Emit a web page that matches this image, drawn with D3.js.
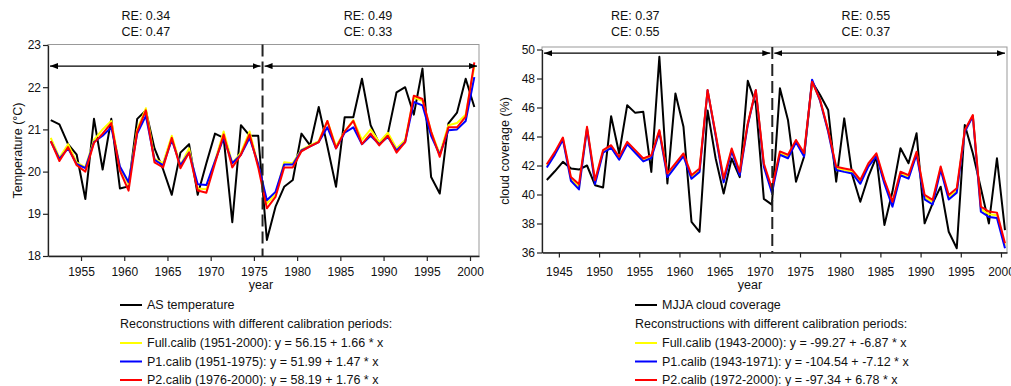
<!DOCTYPE html>
<html>
<head>
<meta charset="utf-8">
<script src="https://cdnjs.cloudflare.com/ajax/libs/d3/7.8.5/d3.min.js"></script>
<style>
  body { margin: 0; background: #fff; }
  text { font-family: 'Liberation Sans', Arial, sans-serif; fill: #111; }
</style>
</head>
<body>
<div id="chart"></div>
<script>
// ---- data ----
// left panel: AS temperature, 1951-2000
const tempYears = d3.range(1951, 2001);
const asTemperature = [21.22, 21.12, 20.65, 20.4, 19.35, 21.25, 20.05, 21.25, 19.6, 19.65,
  21.25, 21.45, 20.55, 20.05, 19.45, 20.45, 20.65, 19.45, 20.2, 20.9,
  20.8, 18.8, 21.1, 20.85, 20.85, 18.38, 19.17, 19.64, 19.8, 20.9,
  20.62, 21.53, 20.6, 19.64, 21.29, 21.29, 22.2, 21.1, 20.66, 20.9,
  21.88, 22.0, 21.35, 22.44, 19.87, 19.48, 21.14, 21.4, 22.2, 21.53];
const tempFullCalib = [20.8, 20.33, 20.65, 20.22, 20.1, 20.75, 21.0, 21.2, 20.1, 19.7,
  21.0, 21.5, 20.3, 20.2, 20.85, 20.15, 20.55, 19.6, 19.58, 20.25,
  20.95, 20.2, 20.45, 20.95, 20.15, 19.24, 19.46, 20.22, 20.2, 20.52,
  20.62, 20.72, 21.2, 20.6, 20.95, 21.22, 20.75, 21.0, 20.7, 20.92,
  20.55, 20.75, 21.76, 21.68, 20.95, 20.42, 21.1, 21.15, 21.35, 22.5];
const tempP1Calib = [20.72, 20.3, 20.55, 20.18, 20.08, 20.7, 20.85, 21.05, 20.12, 19.75,
  20.9, 21.32, 20.28, 20.15, 20.75, 20.15, 20.45, 19.7, 19.68, 20.25,
  20.8, 20.2, 20.4, 20.8, 20.18, 19.32, 19.52, 20.17, 20.17, 20.5,
  20.6, 20.7, 21.05, 20.55, 20.92, 21.05, 20.65, 20.85, 20.65, 20.82,
  20.5, 20.7, 21.65, 21.57, 20.85, 20.4, 20.98, 21.0, 21.2, 22.24];
const tempP2Calib = [20.72, 20.25, 20.58, 20.15, 20.0, 20.68, 20.9, 21.15, 20.02, 19.55,
  20.95, 21.45, 20.22, 20.1, 20.8, 20.08, 20.45, 19.55, 19.5, 20.2,
  20.88, 20.1, 20.4, 20.88, 20.1, 19.13, 19.4, 20.1, 20.1, 20.48,
  20.6, 20.7, 21.2, 20.55, 20.95, 21.2, 20.65, 20.9, 20.62, 20.85,
  20.45, 20.7, 21.8, 21.72, 20.95, 20.35, 21.05, 21.05, 21.3, 22.59];

// right panel: MJJA cloud coverage, 1943-2000
const cloudYears = d3.range(1943, 2001);
const mjjaCloud = [41.0, 41.6, 42.25, 41.8, 41.72, 42.0, 40.64, 40.48, 45.4, 42.83,
  46.16, 45.63, 45.7, 41.56, 49.5, 40.76, 46.97, 44.67, 38.11, 37.43,
  45.8, 42.5, 40.07, 42.48, 41.2, 47.84, 46.27, 39.7, 39.3, 47.32,
  45.14, 40.88, 42.6, 47.78, 46.86, 45.83, 40.88, 45.25, 41.34, 39.5,
  41.23, 42.6, 37.9, 40.2, 43.19, 42.15, 44.22, 38.01, 39.39, 40.54,
  37.43, 36.29, 44.8, 42.84, 40.43, 38.0, 42.5, 37.55];
const cloudFullCalib = [41.98, 42.85, 43.86, 41.08, 40.5, 44.6, 40.86, 42.97, 43.31, 42.5,
  43.55, 42.97, 42.38, 42.62, 44.38, 41.33, 42.03, 42.74, 41.2, 41.68,
  47.18, 44.13, 40.97, 43.08, 41.44, 44.85, 47.18, 42.03, 40.28, 42.86,
  42.62, 43.68, 42.74, 47.82, 46.47, 44.39, 41.8, 41.68, 41.57, 40.87,
  42.04, 42.75, 40.87, 39.33, 41.45, 41.22, 42.86, 39.82, 39.47, 41.82,
  39.82, 40.28, 44.39, 45.44, 38.99, 38.64, 38.57, 36.46];
const cloudP1Calib = [41.86, 42.75, 43.78, 40.95, 40.35, 44.55, 40.72, 42.88, 43.22, 42.4,
  43.47, 42.88, 42.28, 42.52, 44.32, 41.2, 41.92, 42.64, 41.08, 41.56,
  47.19, 44.07, 40.84, 43.0, 41.32, 44.8, 47.19, 41.92, 40.12, 42.74,
  42.5, 43.6, 42.62, 47.92, 46.45, 44.33, 41.69, 41.56, 41.45, 40.74,
  41.93, 42.65, 40.74, 39.16, 41.33, 41.09, 42.76, 39.66, 39.31, 41.7,
  39.66, 40.13, 44.33, 45.4, 38.82, 38.45, 38.38, 36.29];
const cloudP2Calib = [42.09, 42.94, 43.93, 41.2, 40.7, 44.67, 40.99, 43.06, 43.4, 42.6,
  43.63, 43.06, 42.48, 42.71, 44.44, 41.45, 42.14, 42.83, 41.33, 41.79,
  47.2, 44.2, 41.1, 43.17, 41.56, 44.9, 47.2, 42.14, 40.43, 42.97,
  42.74, 43.76, 42.86, 47.78, 46.52, 44.45, 41.92, 41.8, 41.69, 41.0,
  42.15, 42.84, 41.0, 39.5, 41.57, 41.34, 42.95, 39.97, 39.63, 41.93,
  39.97, 40.43, 44.45, 45.48, 39.16, 38.82, 38.75, 36.63];

// verification statistics for the two periods of each panel
const tempStats = [['RE: 0.34', 'CE: 0.47'], ['RE: 0.49', 'CE: 0.33']];
const cloudStats = [['RE: 0.37', 'CE: 0.55'], ['RE: 0.55', 'CE: 0.37']];

const tempLegend = ['AS temperature',
  'Full.calib (1951-2000): y = 56.15 + 1.66 * x',
  'P1.calib (1951-1975): y = 51.99 + 1.47 * x',
  'P2.calib (1976-2000): y = 58.19 + 1.76 * x'];
const cloudLegend = ['MJJA cloud coverage',
  'Full.calib (1943-2000): y = -99.27 + -6.87 * x',
  'P1.calib (1943-1971): y = -104.54 + -7.12 * x',
  'P2.calib (1972-2000): y = -97.34 + 6.78 * x'];

const seriesColors = ['#000000', '#ffff00', '#0000ff', '#ff0000'];

const W = 1011, H = 386;

const svg = d3.select('#chart').append('svg')
  .attr('width', W).attr('height', H);
svg.append('rect').attr('width', W).attr('height', H).attr('fill', '#fff');

// arrow heads for the calibration period markers
const defs = svg.append('defs');
[['arrEnd', 'M0,0 L8,3 L0,6 Z'], ['arrStart', 'M8,0 L0,3 L8,6 Z']].forEach(([id, d]) => {
  defs.append('marker')
    .attr('id', id)
    .attr('markerUnits', 'userSpaceOnUse')
    .attr('markerWidth', 8).attr('markerHeight', 6)
    .attr('refX', id === 'arrEnd' ? 8 : 0).attr('refY', 3)
    .attr('orient', 'auto')
    .append('path').attr('d', d).attr('fill', '#000');
});

function drawPanel(p) {
  const x = d3.scaleLinear().domain(p.xDomain).range(p.xRange);
  const y = d3.scaleLinear().domain(p.yDomain).range(p.yRange);
  const g = svg.append('g');

  // plot box (light) then the two drawn axes
  g.append('rect')
    .attr('x', p.xRange[0]).attr('y', p.boxTop)
    .attr('width', p.xRange[1] - p.xRange[0])
    .attr('height', p.yRange[0] - p.boxTop)
    .attr('fill', 'none').attr('stroke', '#999').attr('stroke-width', 1);

  const xAxis = g.append('g')
    .attr('transform', `translate(0,${p.yRange[0]})`)
    .call(d3.axisBottom(x).tickValues(p.xTicks).tickFormat(d3.format('d'))
      .tickSizeInner(5).tickSizeOuter(0).tickPadding(p.xTickPad));
  xAxis.select('.domain').attr('stroke', '#222').attr('stroke-width', 1.3);
  xAxis.selectAll('.tick line').attr('stroke', '#222').attr('stroke-width', 1.2);
  xAxis.selectAll('text').attr('font-size', 12).attr('fill', '#111')
    .attr('font-family', "'Liberation Sans', Arial, sans-serif");

  const yAxis = g.append('g')
    .attr('transform', `translate(${p.xRange[0]},0)`)
    .call(d3.axisLeft(y).tickValues(p.yTicks).tickFormat(d3.format('d'))
      .tickSizeInner(5).tickSizeOuter(0).tickPadding(2));
  yAxis.select('.domain').attr('stroke', '#222').attr('stroke-width', 1.3);
  yAxis.selectAll('.tick line').attr('stroke', '#222').attr('stroke-width', 1.2);
  yAxis.selectAll('text').attr('font-size', 12).attr('fill', '#111')
    .attr('font-family', "'Liberation Sans', Arial, sans-serif");

  // series, drawn at mid-year
  const line = d3.line()
    .x((d, i) => x(p.years[i] + 0.5))
    .y(d => y(d));
  p.series.forEach((s, i) => {
    g.append('path')
      .datum(s)
      .attr('d', line)
      .attr('fill', 'none')
      .attr('stroke', seriesColors[i])
      .attr('stroke-width', 2)
      .attr('stroke-linejoin', 'round');
  });

  // split between the two calibration periods
  g.append('line')
    .attr('x1', x(p.split)).attr('x2', x(p.split))
    .attr('y1', p.boxTop).attr('y2', p.yRange[0])
    .attr('stroke', '#222').attr('stroke-width', 2)
    .attr('stroke-dasharray', '12,5');

  const arrowSpans = [[x.domain()[0], p.split], [p.split, x.domain()[1]]];
  arrowSpans.forEach(([a, b]) => {
    g.append('line')
      .attr('x1', x(a) + 2).attr('x2', x(b) - 2)
      .attr('y1', y(p.arrowAt)).attr('y2', y(p.arrowAt))
      .attr('stroke', '#000').attr('stroke-width', 1.3)
      .attr('marker-start', 'url(#arrStart)')
      .attr('marker-end', 'url(#arrEnd)');
  });

  // RE / CE above the panel
  p.stats.forEach((st, i) => {
    const t = g.append('text')
      .attr('x', x(p.statsAt[i]))
      .attr('text-anchor', 'middle')
      .attr('font-size', 12.5);
    st.forEach((s, j) => {
      t.append('tspan').attr('x', x(p.statsAt[i])).attr('y', 20 + j * 16).text(s);
    });
  });

  g.append('text')
    .attr('transform', `translate(${p.yLabelX},${(p.yRange[0] + p.yRange[1]) / 2}) rotate(-90)`)
    .attr('text-anchor', 'middle')
    .attr('dominant-baseline', 'central')
    .attr('font-size', 12.5)
    .text(p.yLabel);

  g.append('text')
    .attr('x', p.xLabelX).attr('y', 289)
    .attr('text-anchor', 'middle')
    .attr('font-size', 12.5)
    .text('year');

  // legend
  const lg = g.append('g').attr('transform', `translate(${p.legendX},0)`);
  const rowY = [305, 343, 361.5, 380];
  p.legend.forEach((label, i) => {
    lg.append('line')
      .attr('x1', 0).attr('x2', 22)
      .attr('y1', rowY[i]).attr('y2', rowY[i])
      .attr('stroke', seriesColors[i]).attr('stroke-width', 2);
    lg.append('text')
      .attr('x', 27).attr('y', rowY[i])
      .attr('dominant-baseline', 'central')
      .attr('font-size', 12.5)
      .text(label);
  });
  lg.append('text')
    .attr('x', 0).attr('y', 324)
    .attr('dominant-baseline', 'central')
    .attr('font-size', 12.5)
    .text('Reconstructions with different calibration periods:');
}

drawPanel({
  years: tempYears,
  series: [asTemperature, tempFullCalib, tempP1Calib, tempP2Calib],
  xDomain: [1951.18, 2001.04], xRange: [48, 479],
  yDomain: [18, 23], yRange: [256, 45], boxTop: 44.5,
  xTicks: d3.range(1955, 2001, 5), yTicks: d3.range(18, 24), xTickPad: 6,
  split: 1976, arrowAt: 22.5,
  stats: tempStats, statsAt: [1962.5, 1988.2],
  yLabel: 'Temperature (°C)', yLabelX: 18,
  xLabelX: 261, legendX: 120, legend: tempLegend
});

drawPanel({
  years: cloudYears,
  series: [mjjaCloud, cloudFullCalib, cloudP1Calib, cloudP2Calib],
  xDomain: [1942.9, 2000.75], xRange: [542, 1007],
  yDomain: [36, 50], yRange: [252.5, 49.5], boxTop: 47,
  xTicks: d3.range(1945, 2001, 5), yTicks: d3.range(36, 51, 2), xTickPad: 10,
  split: 1971.55, arrowAt: 49.75,
  stats: cloudStats, statsAt: [1954.5, 1983.2],
  yLabel: 'cloud coverage (%)', yLabelX: 505,
  xLabelX: 750, legendX: 635, legend: cloudLegend
});
</script>
</body>
</html>
